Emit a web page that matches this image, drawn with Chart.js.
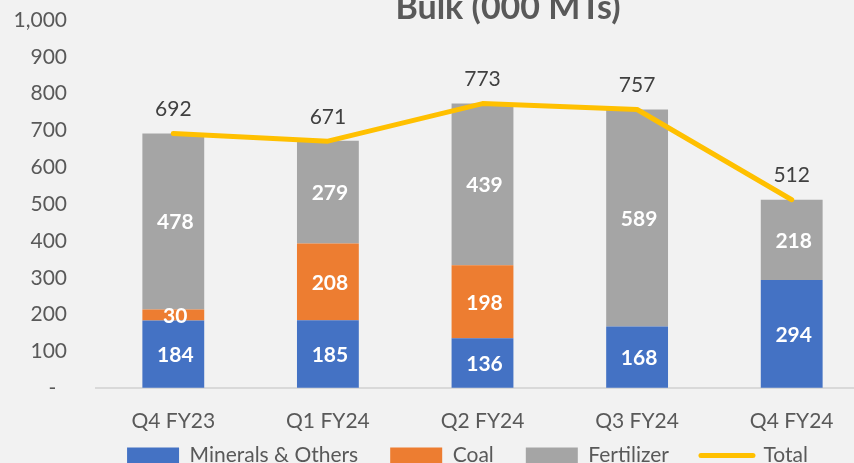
<!DOCTYPE html>
<html>
<head>
<meta charset="utf-8">
<title>Bulk (000 MTs)</title>
<script src="https://cdn.jsdelivr.net/npm/chart.js@4.4.1/dist/chart.umd.min.js"></script>
<style>
    html, body { margin: 0; padding: 0; background: #F2F2F2; overflow: hidden; }
    #wrap { position: absolute; left: 0; top: 0; width: 935px; height: 476px; }
</style>
</head>
<body>
<div id="wrap"><canvas id="bulk" width="935" height="476"></canvas></div>
<script>
const categories = ['Q4 FY23', 'Q1 FY24', 'Q2 FY24', 'Q3 FY24', 'Q4 FY24']
const minerals = [184, 185, 136, 168, 294]
const coal = [30, 208, 198, null, null]
const fertilizer = [478, 279, 439, 589, 218]
const total = [692, 671, 773, 757, 512]
const yTicks = [0, 100, 200, 300, 400, 500, 600, 700, 800, 900, 1000]

const FONT = 'Lato'
const GREY_TEXT = '#595959'
const YELLOW = '#FFC000'

// title sits off-centre and is clipped by the top edge in the original
const titlePlugin = {
    id: 'bulkTitle',
    afterDraw(chart) {
        const ctx = chart.ctx
        ctx.save()
        ctx.font = `bold 34px ${FONT}`
        ctx.fillStyle = GREY_TEXT
        ctx.textAlign = 'center'
        ctx.textBaseline = 'alphabetic'
        ctx.fillText('Bulk (000 MTs)', 508, 19)
        ctx.restore()
    }
}

const valueLabels = {
    id: 'valueLabels',
    afterDatasetsDraw(chart) {
        const ctx = chart.ctx
        ctx.save()
        ctx.textAlign = 'center'
        ctx.textBaseline = 'middle'
        chart.data.datasets.forEach((ds, i) => {
            const meta = chart.getDatasetMeta(i)
            meta.data.forEach((el, j) => {
                const v = ds.data[j]
                if (v == null || v === 0) return
                if (ds.type === 'line') {
                    ctx.font = `21px ${FONT}`
                    ctx.fillStyle = '#404040'
                    ctx.fillText(v, el.x, el.y - 24)
                } else {
                    ctx.font = `bold 21px ${FONT}`
                    ctx.fillStyle = '#FFFFFF'
                    ctx.fillText(v, el.x + 2, (el.y + el.base) / 2 + 1)
                }
            })
        })
        ctx.restore()
    }
}

new Chart(document.getElementById('bulk'), {
    type: 'bar',
    data: {
        labels: categories,
        datasets: [
            { label: 'Minerals & Others', data: minerals, backgroundColor: '#4472C4', order: 1 },
            { label: 'Coal', data: coal, backgroundColor: '#ED7D31', order: 1 },
            { label: 'Fertilizer', data: fertilizer, backgroundColor: '#A5A5A5', order: 1 },
            {
                type: 'line',
                label: 'Total',
                data: total,
                stack: 'total',
                borderColor: YELLOW,
                backgroundColor: YELLOW,
                borderWidth: 5,
                borderCapStyle: 'round',
                borderJoinStyle: 'round',
                pointRadius: 0,
                tension: 0,
                order: 0
            }
        ]
    },
    options: {
        responsive: false,
        animation: false,
        layout: { padding: { top: 20, left: 0, right: 0, bottom: 0 } },
        datasets: {
            bar: { barPercentage: 0.4, categoryPercentage: 1.0 }
        },
        scales: {
            x: {
                stacked: true,
                grid: { display: false, drawTicks: false },
                border: { display: true, color: '#D9D9D9', width: 2 },
                // mirror keeps the labels from being clipped to the short axis box
                ticks: { color: GREY_TEXT, font: { family: FONT, size: 21 }, padding: -45.3, mirror: true, maxRotation: 0 },
                afterFit(scale) { scale.height = 24.7 }
            },
            y: {
                stacked: true,
                min: 0,
                max: 1000,
                afterBuildTicks(scale) { scale.ticks = yTicks.map(v => ({ value: v })) },
                grid: { color: 'transparent', drawOnChartArea: false, tickColor: 'transparent', tickLength: 29 },
                border: { display: false },
                ticks: {
                    color: GREY_TEXT,
                    font: { family: FONT, size: 21 },
                    padding: 0,
                    callback: v => v === 0 ? '-  ' : v.toLocaleString('en-US')
                },
                afterFit(scale) { scale.width = 96 }
            },
            y2: {
                position: 'right',
                display: true,
                grid: { display: false, drawTicks: false },
                border: { display: false },
                ticks: { display: false },
                afterFit(scale) { scale.width = 66 }
            }
        },
        plugins: {
            title: { display: false },
            tooltip: { enabled: false },
            legend: {
                position: 'bottom',
                labels: {
                    color: GREY_TEXT,
                    font: { family: FONT, size: 21 },
                    usePointStyle: true,
                    pointStyleWidth: 52,
                    boxWidth: 52,
                    boxHeight: 16,
                    padding: 32,
                    sort: (a, b) => a.datasetIndex - b.datasetIndex,
                    generateLabels(chart) {
                        const items = Chart.defaults.plugins.legend.labels.generateLabels(chart)
                        items.forEach(it => {
                            if (it.datasetIndex === 3) {
                                it.pointStyle = 'line'
                                it.lineWidth = 5
                                it.lineCap = 'round'
                                it.strokeStyle = YELLOW
                            } else {
                                it.pointStyle = 'rect'
                                it.lineWidth = 0
                            }
                        })
                        return items
                    }
                }
            }
        }
    },
    plugins: [titlePlugin, valueLabels]
})
</script>
</body>
</html>
